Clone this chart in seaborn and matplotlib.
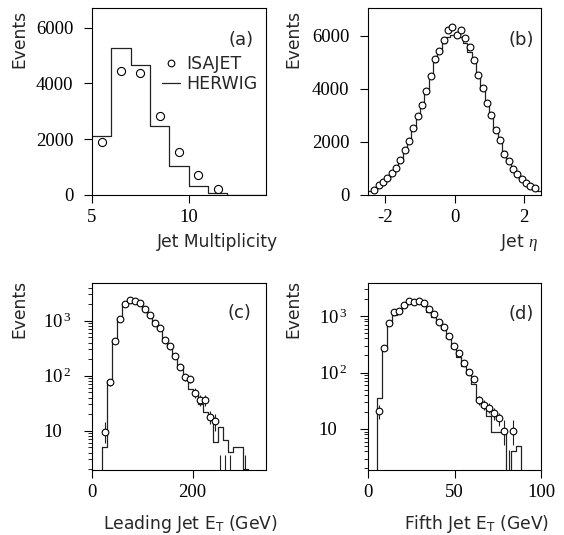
import numpy as np
import pandas as pd
import matplotlib
matplotlib.use("Agg")
import matplotlib.pyplot as plt
import seaborn as sns
from matplotlib.lines import Line2D
from matplotlib.ticker import FixedLocator, FixedFormatter, NullFormatter

# ---------------- data ----------------
# (a) jet multiplicity
a_edges = [5, 6, 7, 8, 9, 10, 11, 12, 13, 14]
a_herwig = [2110, 5270, 4660, 2480, 1040, 320, 70, 15, 0]
a_isajet_x = [5.5, 6.5, 7.5, 8.5, 9.5, 10.5, 11.5]
a_isajet = [1910, 4450, 4380, 2840, 1530, 710, 215]

# (b) jet eta
b_edges = [float(v) for v in np.linspace(-2.5, 2.5, 41)]
b_herwig = [150, 230, 330, 460, 620, 800, 1010, 1300, 1640, 2030,
            2480, 2960, 3450, 3960, 4480, 5000, 5400, 5720, 5940, 6030,
            6030, 5940, 5720, 5400, 5000, 4480, 3960, 3450, 2960, 2480,
            2030, 1640, 1300, 1010, 800, 620, 460, 330, 230, 150]
b_isajet_x = [-2.3125, -2.1875, -2.0625, -1.9375, -1.8125, -1.6875, -1.5625,
              -1.4375, -1.3125, -1.1875, -1.0625, -0.9375, -0.8125, -0.6875,
              -0.5625, -0.4375, -0.3125, -0.1875, -0.0625,
              0.0625, 0.1875, 0.3125, 0.4375, 0.5625, 0.6875, 0.8125, 0.9375,
              1.0625, 1.1875, 1.3125, 1.4375, 1.5625, 1.6875, 1.8125, 1.9375,
              2.0625, 2.1875, 2.3125]
b_isajet = [200, 390, 475, 640, 830, 1020, 1330, 1680, 2050, 2525, 2990, 3400,
            3905, 4500, 5130, 5415, 5830, 6205, 6335,
            6045, 6205, 5920, 5580, 5100, 4535, 4045, 3470, 3030, 2445, 2060,
            1555, 1290, 975, 805, 605, 450, 350, 250]

# (c) leading jet ET (GeV)
c_edges = list(range(10, 330, 10))
c_herwig = [0.01, 5, 80, 440, 1100, 2000, 2300, 2250, 2000, 1600, 1250, 950,
            700, 470, 340, 230, 150, 100, 58, 45, 31, 22, 18, 6.3, 11.8, 6.8,
            4.1, 5.1, 5.1, 2.0, 0.01]
c_isajet_x = [25, 35, 45, 55, 65, 75, 85, 95, 105, 115, 125, 135, 145, 155,
              165, 175, 185, 195, 205, 215, 225, 235, 245, 255, 265, 275, 305]
c_isajet = [9.4, 76, 428, 1074, 2013, 2410, 2280, 2070, 1632, 1270, 920, 746,
            445, 347, 228, 146, 93, 86, 49, 36, 36, 18, 15, 1, 1, 1, 1]
c_err_lo = [3.3, 12, 30, 45, 62, 68, 66, 63, 56, 50, 42, 38, 29, 26, 21, 17,
            14, 13, 10, 8, 8, 5, 5, 0.5, 0.5, 0.5, 0.5]
c_err_hi = [5.0, 12, 30, 45, 62, 68, 66, 63, 56, 50, 42, 38, 29, 26, 21, 17,
            14, 13, 10, 8, 8, 5, 5, 2.6, 2.6, 2.6, 2.6]

# (d) fifth jet ET (GeV)
d_edges = [2.19, 5.06, 7.94, 10.81, 13.69, 16.56, 19.44, 22.31, 25.19, 28.06,
           30.94, 33.81, 36.69, 39.56, 42.44, 45.31, 48.19, 51.06, 53.94,
           56.81, 59.69, 62.56, 65.44, 68.31, 71.19, 74.06, 76.94, 79.81,
           82.69, 85.56, 88.44, 91.31]
d_herwig = [0.01, 35, 280, 740, 1050, 1250, 1480, 1700, 1750, 1680, 1480,
            1200, 980, 750, 580, 400, 270, 185, 130, 95, 62, 33, 25, 17, 9,
            9, 9, 0.01, 4.0, 4.9, 0.01]
d_isajet_x = [6.5, 9.4, 12.3, 15.1, 18.0, 20.9, 23.8, 26.6, 29.5, 32.4, 35.3,
              38.1, 41.0, 43.9, 46.8, 49.6, 52.5, 55.4, 58.3, 61.1, 64.0,
              66.9, 69.8, 72.6, 75.5, 78.4, 81.25, 84.1]
d_isajet = [21, 275, 760, 1190, 1240, 1570, 1870, 1750, 1870, 1680, 1315,
            1085, 793, 647, 448, 294, 219, 146, 103, 78, 33, 27, 24, 19, 15.5,
            9.3, 1, 9.3]
d_err_lo = [6, 17, 28, 35, 35, 40, 43, 42, 43, 41, 36, 33, 28, 25, 21, 17, 15,
            12, 10, 9, 6, 5.5, 5, 4.5, 4, 4, 0.5, 4]
d_err_hi = [6, 17, 28, 35, 35, 40, 43, 42, 43, 41, 36, 33, 28, 25, 21, 17, 15,
            12, 10, 9, 6, 5.5, 5, 4.5, 4, 5, 3.3, 5]

# tick labels
a_xticks, a_xlabels = [5, 10], ["5", "10"]
a_yticks, a_ylabels = [0, 2000, 4000, 6000], ["0", "2000", "4000", "6000"]
b_xticks, b_xlabels = [-2, 0, 2], ["-2", "0", "2"]
b_yticks, b_ylabels = [0, 2000, 4000, 6000], ["0", "2000", "4000", "6000"]
c_xticks, c_xlabels = [0, 200], ["0", "200"]
d_xticks, d_xlabels = [0, 50, 100], ["0", "50", "100"]
log_yticks = [10, 100, 1000]
log_ylabels = ["10", r"$\mathrm{10}^{\,2}$", r"$\mathrm{10}^{\,3}$"]
log_minor = [2, 3, 4, 5, 6, 7, 8, 9, 20, 30, 40, 50, 60, 70, 80, 90,
             200, 300, 400, 500, 600, 700, 800, 900, 2000, 3000, 4000]

# ---------------- style ----------------
sns.set_theme(style="ticks")
plt.rcParams.update({
    "font.family": ["DejaVu Sans"],
    "mathtext.fontset": "custom",
    "mathtext.rm": "Liberation Serif",
    "mathtext.it": "Liberation Serif:italic",
    "mathtext.sf": "DejaVu Sans",
    "axes.linewidth": 0.8,
    "axes.edgecolor": "black",
    "xtick.color": "black",
    "ytick.color": "black",
    "xtick.direction": "out",
    "ytick.direction": "out",
    "axes.unicode_minus": False,
})

LINE = "#222222"
LAB_FS = 12.3
TICK_FS = 13.5
TICK_FONT = "Liberation Serif"

fig = plt.figure(figsize=(5.64, 5.35), dpi=100)
W, H = 564.0, 535.0


def add_ax(l, r, t, b):
    return fig.add_axes([l / W, 1 - b / H, (r - l) / W, (b - t) / H])


ax_a = add_ax(92, 266, 8, 195)
ax_b = add_ax(368, 541, 8, 195)
ax_c = add_ax(92, 266, 283, 470)
ax_d = add_ax(368, 541, 283, 470)


def step_hist(ax, edges, counts):
    e = [float(v) for v in edges]
    centers = [(e[i] + e[i + 1]) / 2 for i in range(len(e) - 1)]
    df = pd.DataFrame({"x": centers, "w": [float(c) for c in counts]})
    sns.histplot(data=df, x="x", weights="w", bins=e, element="step",
                 fill=False, color=LINE, linewidth=0.9, ax=ax, zorder=1)


def points(ax, x, y, size, lo=None, hi=None):
    if lo is not None:
        ax.errorbar(x, y, yerr=[lo, hi], fmt="none", ecolor=LINE,
                    elinewidth=0.8, capsize=0, zorder=2)
    df = pd.DataFrame({"x": x, "y": y})
    sns.scatterplot(data=df, x="x", y="y", marker="o", s=size, color="white",
                    edgecolor="black", linewidth=0.8, ax=ax, zorder=3)


def style(ax, xt, xl, xlim, ylim, xlabel, xlab_pos, ylab_pos, panel, panel_pos,
          yt=None, yl=None, ypad=7, log=False):
    ax.set_xlim(*xlim)
    if log:
        ax.set_yscale("log")
        ax.yaxis.set_major_locator(FixedLocator(log_yticks))
        ax.yaxis.set_major_formatter(FixedFormatter(log_ylabels))
        ax.yaxis.set_minor_locator(FixedLocator(log_minor))
        ax.yaxis.set_minor_formatter(NullFormatter())
    else:
        ax.yaxis.set_major_locator(FixedLocator(yt))
        ax.yaxis.set_major_formatter(FixedFormatter(yl))
    ax.set_ylim(*ylim)
    ax.xaxis.set_major_locator(FixedLocator(xt))
    ax.xaxis.set_major_formatter(FixedFormatter(xl))
    ax.tick_params(axis="both", which="major", length=6, width=0.8,
                   labelsize=TICK_FS, labelfontfamily=TICK_FONT)
    ax.tick_params(axis="y", which="minor", length=3.2, width=0.6)
    ax.tick_params(axis="x", which="major", pad=4)
    ax.tick_params(axis="y", which="major", pad=ypad)
    if log:
        for lb in ax.get_yticklabels():
            lb.set_horizontalalignment("left")
    for s in ax.spines.values():
        s.set_visible(True)
        s.set_linewidth(0.8)
        s.set_color("black")
    ax.set_xlabel(xlabel, fontsize=LAB_FS, ha="right", va="baseline")
    ax.xaxis.set_label_coords(*xlab_pos)
    ax.set_ylabel("Events", fontsize=LAB_FS, ha="right", va="center")
    ax.yaxis.set_label_coords(*ylab_pos)
    ax.text(panel_pos[0], panel_pos[1], panel, transform=ax.transAxes,
            fontsize=13, ha="center", va="center")


# (a)
step_hist(ax_a, a_edges, a_herwig)
points(ax_a, a_isajet_x, a_isajet, 34)
style(ax_a, a_xticks, a_xlabels, (5, 14), (0, 6700), "Jet Multiplicity",
      (1.069, -0.28), (-0.417, 0.989), "(a)", (0.856, 0.829),
      yt=a_yticks, yl=a_ylabels, ypad=7.5)
handles = [Line2D([], [], marker="o", linestyle="none", markersize=4.8,
                  markerfacecolor="white", markeredgecolor="black",
                  markeredgewidth=0.8),
           Line2D([], [], color=LINE, linewidth=0.9)]
ax_a.legend(handles, ["ISAJET", "HERWIG"], loc="center left",
            bbox_to_anchor=(0.40, 0.647), frameon=False, fontsize=12.5,
            handlelength=1.05, handletextpad=0.35, labelspacing=0.12,
            borderpad=0, borderaxespad=0, numpoints=1)

# (b)
step_hist(ax_b, b_edges, b_herwig)
points(ax_b, b_isajet_x, b_isajet, 24)
style(ax_b, b_xticks, b_xlabels, (-2.5, 2.5), (0, 7050), r"Jet $\eta$",
      (0.987, -0.28), (-0.431, 0.989), "(b)", (0.884, 0.829),
      yt=b_yticks, yl=b_ylabels, ypad=7.5)

# (c)
ax_c.set_yscale("log")
step_hist(ax_c, c_edges, c_herwig)
points(ax_c, c_isajet_x, c_isajet, 23, c_err_lo, c_err_hi)
style(ax_c, c_xticks, c_xlabels, (0, 346), (1.93, 4840),
      r"Leading Jet E$_\mathsf{T}$ (GeV)",
      (1.069, -0.316), (-0.417, 1.016), "(c)", (0.849, 0.84), ypad=29,
      log=True)

# (d)
ax_d.set_yscale("log")
step_hist(ax_d, d_edges, d_herwig)
points(ax_d, d_isajet_x, d_isajet, 23, d_err_lo, d_err_hi)
style(ax_d, d_xticks, d_xlabels, (0, 100), (1.88, 3840),
      r"Fifth Jet E$_\mathsf{T}$ (GeV)",
      (1.045, -0.316), (-0.431, 1.016), "(d)", (0.883, 0.834), ypad=29.5,
      log=True)

fig.savefig("out.png", dpi=100)
